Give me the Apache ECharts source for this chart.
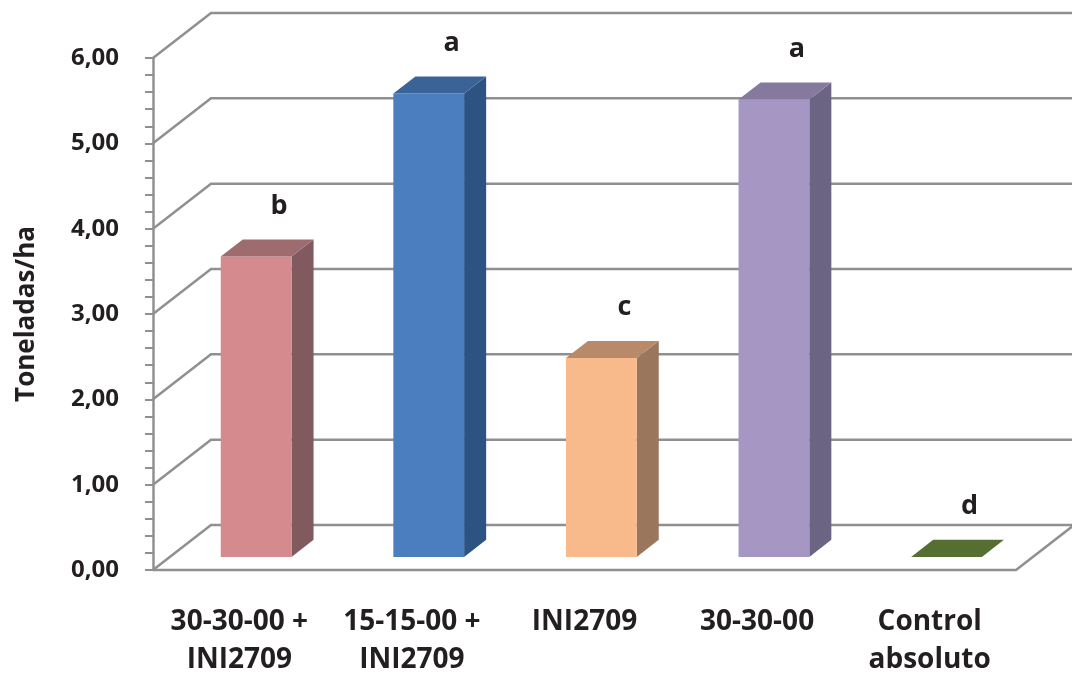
<!DOCTYPE html>
<html>
<head>
<meta charset="utf-8">
<script src="https://cdn.jsdelivr.net/npm/echarts@6/dist/echarts.min.js"></script>
<style>
  html, body { margin: 0; padding: 0; background: #ffffff; }
  #chart { width: 1072px; height: 675px; }
</style>
</head>
<body>
<div id="chart"></div>
<script>
// Rendimiento por tratamiento (t/ha) con letras de significancia
var categories = ['30-30-00 +\nINI2709', '15-15-00 +\nINI2709', 'INI2709', '30-30-00', 'Control\nabsoluto'];
var values = [3.52, 5.43, 2.33, 5.36, 0.0];
var letters = ['b', 'a', 'c', 'a', 'd'];
var yTicks = [0, 1, 2, 3, 4, 5, 6];

// Colores de cada columna: cara frontal, cara superior, cara lateral
var faceColors = [
  ['#D58B8D', '#9E6B6E', '#805A5E'],
  ['#4A7EBE', '#3A6497', '#2C5381'],
  ['#F9BA8B', '#B88A6A', '#99765C'],
  ['#A696C3', '#857A9E', '#6B6482'],
  ['#556F32', '#556F32', '#44592A']
];

// Proyección oblicua de la profundidad (px por profundidad completa)
var DEPTH_X = 58, DEPTH_Y = -45;
var BAR_FRONT = 0.29, BAR_BACK = 0.67, BAR_WIDTH = 0.41;
var GRID_COLOR = '#8E9092';
var FONT = '"Open Sans", "DejaVu Sans", sans-serif';

function fmt(v) { return v.toFixed(2).replace('.', ','); }

var chart = echarts.init(document.getElementById('chart'), null, { renderer: 'canvas' });

function renderGrid(params, api) {
  var cs = params.coordSys;
  var v = api.value(1);
  var y = api.coord([0, v])[1];
  var L = cs.x, R = cs.x + cs.width;
  var style = { stroke: GRID_COLOR, lineWidth: 2.5, fill: null };
  var children = [{
    type: 'polyline',
    shape: { points: [[L, y], [L + DEPTH_X, y + DEPTH_Y], [R + DEPTH_X + 4, y + DEPTH_Y]] },
    style: style
  }];
  if (v === 0) {
    children.push({
      type: 'polyline',
      shape: { points: [[L, y], [R, y], [R + DEPTH_X, y + DEPTH_Y]] },
      style: style
    });
  }
  return { type: 'group', children: children };
}

function renderBar(params, api) {
  var i = api.value(0);
  var v = api.value(1);
  var base = api.coord([i, 0]);
  var top = api.coord([i, v]);
  var band = api.size([1, 0])[0];
  var w = band * BAR_WIDTH;
  var fx = DEPTH_X * BAR_FRONT, fy = DEPTH_Y * BAR_FRONT;
  var dx = DEPTH_X * (BAR_BACK - BAR_FRONT), dy = DEPTH_Y * (BAR_BACK - BAR_FRONT);
  var x0 = base[0] - w / 2 + fx, x1 = base[0] + w / 2 + fx;
  var yT = top[1] + fy, yB = base[1] + fy;
  var c = faceColors[params.dataIndex];
  var children = [];
  if (yB - yT > 0.5) {
    children.push({
      type: 'polygon',
      shape: { points: [[x1, yT], [x1 + dx, yT + dy], [x1 + dx, yB + dy], [x1, yB]] },
      style: { fill: c[2] }
    });
    children.push({
      type: 'rect',
      shape: { x: x0, y: yT, width: w, height: yB - yT },
      style: { fill: c[0] }
    });
  }
  children.push({
    type: 'polygon',
    shape: { points: [[x0, yT], [x1, yT], [x1 + dx, yT + dy], [x0 + dx, yT + dy]] },
    style: { fill: c[1] }
  });
  var midD = (BAR_FRONT + BAR_BACK) / 2;
  children.push({
    type: 'text',
    style: {
      text: letters[params.dataIndex],
      x: base[0] + DEPTH_X * midD + 12,
      y: top[1] + DEPTH_Y * midD - 42,
      align: 'center',
      verticalAlign: 'middle',
      font: 'bold 27px ' + FONT,
      fill: '#231F20'
    }
  });
  return { type: 'group', children: children };
}

var option = {
  backgroundColor: '#ffffff',
  animation: false,
  grid: { left: 153, right: 56, top: 58, bottom: 105, containLabel: false, outerBoundsMode: 'none' },
  xAxis: {
    type: 'category',
    data: categories,
    boundaryGap: true,
    axisLine: { show: false },
    axisTick: { show: false },
    axisLabel: {
      margin: 33,
      fontFamily: FONT,
      fontWeight: 'bold',
      fontSize: 28,
      lineHeight: 38,
      color: '#231F20',
      interval: 0
    },
    splitLine: { show: false }
  },
  yAxis: {
    type: 'value',
    min: 0,
    max: 6,
    interval: 1,
    name: 'Toneladas/ha',
    nameLocation: 'middle',
    nameGap: 113,
    nameRotate: 90,
    nameTextStyle: { fontFamily: FONT, fontWeight: 'bold', fontSize: 26, color: '#231F20' },
    axisLine: { show: true, lineStyle: { color: GRID_COLOR, width: 2.5 } },
    axisTick: { show: true, length: 8, lineStyle: { color: GRID_COLOR, width: 2 } },
    minorTick: { show: true, splitNumber: 5, length: 8, lineStyle: { color: GRID_COLOR, width: 2 } },
    axisLabel: {
      margin: 34,
      formatter: fmt,
      fontFamily: FONT,
      fontWeight: 'bold',
      fontSize: 24,
      color: '#231F20'
    },
    splitLine: { show: false }
  },
  series: [
    {
      type: 'custom',
      name: 'grid',
      silent: true,
      z: 1,
      renderItem: renderGrid,
      encode: { x: 0, y: 1 },
      data: yTicks.map(function (t) { return [0, t]; })
    },
    {
      type: 'custom',
      name: 'Rendimiento',
      z: 2,
      renderItem: renderBar,
      encode: { x: 0, y: 1 },
      data: values.map(function (v, i) { return [i, v]; })
    }
  ]
};

chart.setOption(option);
</script>
</body>
</html>
